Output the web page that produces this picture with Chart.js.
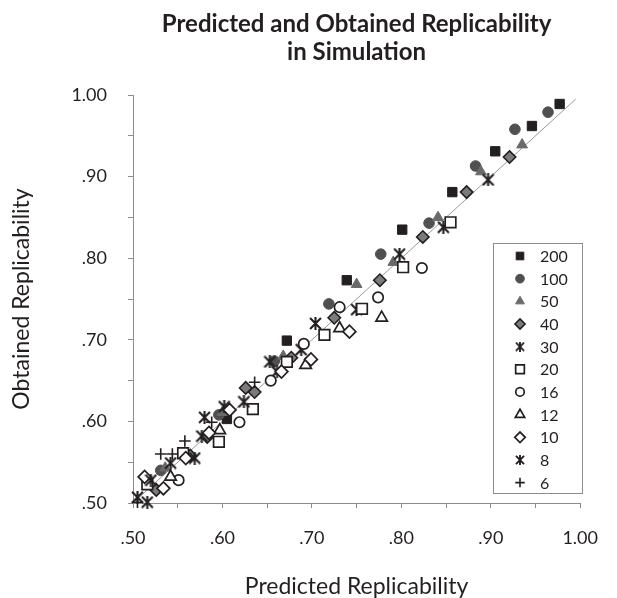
<!DOCTYPE html>
<html>
<head>
<meta charset="utf-8">
<script src="https://cdn.jsdelivr.net/npm/chart.js"></script>
<style>
  html, body { margin: 0; padding: 0; background: #fff; }
  canvas { display: block; }
</style>
</head>
<body>
<canvas id="chartRep" width="617" height="598"></canvas>
<script>
// ── data ───────────────────────────────────────────
const titleLines   = ['Predicted and Obtained Replicability', 'in Simulation'];
const xTitle       = 'Predicted Replicability';
const yTitle       = 'Obtained Replicability';
const seriesLabels = ['200', '100', '50', '40', '30', '20', '16', '12', '10', '8', '6'];

const x200 = [0.977, 0.946, 0.905, 0.857, 0.801, 0.739, 0.672, 0.605];
const y200 = [0.989, 0.962, 0.931, 0.881, 0.835, 0.773, 0.699, 0.603];
const x100 = [0.964, 0.927, 0.883, 0.831, 0.777, 0.719, 0.658, 0.596, 0.531];
const y100 = [0.979, 0.958, 0.913, 0.843, 0.805, 0.744, 0.674, 0.608, 0.540];
const x50  = [0.935, 0.889, 0.841, 0.791, 0.750, 0.668, 0.600, 0.536];
const y50  = [0.939, 0.906, 0.850, 0.795, 0.768, 0.680, 0.611, 0.543];
const x40  = [0.921, 0.873, 0.824, 0.776, 0.725, 0.677, 0.636, 0.626, 0.583, 0.564, 0.526];
const y40  = [0.924, 0.881, 0.826, 0.773, 0.727, 0.678, 0.636, 0.641, 0.581, 0.558, 0.516];
const x30  = [0.897, 0.847, 0.798, 0.750, 0.704, 0.688, 0.661, 0.602, 0.577, 0.542, 0.505];
const y30  = [0.896, 0.838, 0.805, 0.737, 0.720, 0.688, 0.661, 0.618, 0.582, 0.549, 0.507];
const x20  = [0.855, 0.802, 0.756, 0.714, 0.672, 0.634, 0.596, 0.556, 0.516];
const y20  = [0.844, 0.789, 0.738, 0.706, 0.673, 0.615, 0.575, 0.561, 0.523];
const x16  = [0.823, 0.774, 0.731, 0.691, 0.654, 0.619, 0.551];
const y16  = [0.788, 0.752, 0.740, 0.695, 0.650, 0.599, 0.528];
const x12  = [0.778, 0.731, 0.693, 0.597, 0.542];
const y12  = [0.727, 0.714, 0.669, 0.589, 0.532];
const x10  = [0.742, 0.699, 0.666, 0.608, 0.585, 0.559, 0.534, 0.513];
const y10  = [0.710, 0.676, 0.661, 0.614, 0.586, 0.555, 0.518, 0.532];
const x8   = [0.653, 0.624, 0.580, 0.569, 0.520, 0.516];
const y8   = [0.673, 0.624, 0.605, 0.555, 0.528, 0.501];
const x6   = [0.636, 0.588, 0.558, 0.544, 0.531, 0.505];
const y6   = [0.648, 0.599, 0.576, 0.560, 0.560, 0.501];

const refX = [0.50, 0.995];
const refY = [0.50, 0.995];

const xsAll = [x200, x100, x50, x40, x30, x20, x16, x12, x10, x8, x6];
const ysAll = [y200, y100, y50, y40, y30, y20, y16, y12, y10, y8, y6];

// ── marker looks ───────────────────────────────────
const INK = '#231f20';

// "Ж" shaped asterisk (vertical bar + X), as a little canvas
function zhe(size, lw) {
  const c = document.createElement('canvas');
  c.width = c.height = size;
  const g = c.getContext('2d');
  g.strokeStyle = INK; g.lineWidth = lw;
  const a = lw / 2, b = size - lw / 2;
  g.beginPath();
  g.moveTo(size / 2, 0); g.lineTo(size / 2, size);
  g.moveTo(a, a); g.lineTo(b, b);
  g.moveTo(b, a); g.lineTo(a, b);
  g.stroke();
  return c;
}
const zheBig = zhe(13, 2.1), zheSmall = zhe(10, 1.9);

const looks = [
  { ps: 'rect',     r: 6.6, bg: INK,       bc: INK,       bw: 1 },
  { ps: 'circle',   r: 5.3, bg: '#505052', bc: '#505052', bw: 1 },
  { ps: 'triangle', r: 6.2, bg: '#6a6a6c', bc: '#6a6a6c', bw: 1 },
  { ps: 'rectRot',  r: 6.2, bg: '#7b7b7d', bc: INK,       bw: 1.6 },
  { ps: zheBig,     r: 6.5, legend: zheSmall },
  { ps: 'rect',     r: 7.5, bg: '#fff',    bc: INK,       bw: 1.7 },
  { ps: 'circle',   r: 5.2, bg: '#fff',    bc: INK,       bw: 1.7 },
  { ps: 'triangle', r: 6.6, bg: '#fff',    bc: INK,       bw: 1.7 },
  { ps: 'rectRot',  r: 6.4, bg: '#fff',    bc: INK,       bw: 1.7 },
  { ps: zheBig,     r: 6.5, legend: zheSmall },
  { ps: 'cross',    r: 5.8, bg: INK,       bc: INK,       bw: 1.6 }
];

const datasets = seriesLabels.map((lab, i) => ({
  label: lab,
  data: xsAll[i].map((x, k) => ({ x, y: ysAll[i][k] })),
  pointStyle: looks[i].ps,
  pointRadius: looks[i].r,
  backgroundColor: looks[i].bg || INK,
  borderColor: looks[i].bc || INK,
  pointBorderWidth: looks[i].bw || 1,
  showLine: false,
  clip: false,
  order: seriesLabels.length - i   // later series on top, like the original
}));

datasets.push({
  label: 'ref',
  data: refX.map((x, k) => ({ x, y: refY[k] })),
  showLine: true,
  borderColor: '#9a9a9a',
  borderWidth: 1,
  pointRadius: 0,
  order: 99
});

// ── title + in-plot legend ─────────────────────────
const overlay = {
  id: 'overlay',
  afterDraw(chart) {
    const { ctx, chartArea: a } = chart;
    ctx.save();
    ctx.fillStyle = INK;
    ctx.font = 'bold 24px Lato';
    ctx.textAlign = 'center';
    ctx.textBaseline = 'alphabetic';
    const cx = (a.left + a.right) / 2;
    ctx.fillText(titleLines[0], cx, 32);
    ctx.fillText(titleLines[1], cx, 60);

    // legend box
    const bx = 493.5, by = 243.5, bwid = 89, bh = 250;
    ctx.strokeStyle = '#8c8c8c'; ctx.lineWidth = 1;
    ctx.fillStyle = '#fff';
    ctx.fillRect(bx, by, bwid, bh);
    ctx.strokeRect(bx, by, bwid, bh);

    ctx.font = '16px Lato';
    ctx.textAlign = 'left';
    ctx.textBaseline = 'middle';
    seriesLabels.forEach((lab, i) => {
      const y = 256 + i * 22.66;
      const lk = looks[i];
      ctx.fillStyle = lk.bg || INK;
      ctx.strokeStyle = lk.bc || INK;
      ctx.lineWidth = lk.bw || 1;
      Chart.helpers.drawPoint(ctx, {
        pointStyle: lk.legend || lk.ps, radius: lk.r * 0.82,
        borderWidth: lk.bw || 1, rotation: 0
      }, 520, y);
      ctx.fillStyle = INK;
      ctx.fillText(lab, 540, y + 1);
    });
    ctx.restore();
  }
};

const tickFmt = v => {
  const h = Math.round(v * 100);
  if (h % 10 !== 0) return '';
  return h === 100 ? '1.00' : '.' + h;
};

const axisLook = {
  type: 'linear',
  min: 0.5, max: 1.0,
  grid: { drawOnChartArea: false, drawTicks: true, tickLength: 5, color: '#8c8c8c' },
  border: { display: true, color: '#8c8c8c', width: 1 }
};

new Chart(document.getElementById('chartRep'), {
  type: 'scatter',
  data: { datasets },
  options: {
    responsive: false,
    animation: false,
    events: [],
    layout: { padding: { top: 95, right: 20, bottom: 0, left: 0 } },
    plugins: { legend: { display: false }, tooltip: { enabled: false }, title: { display: false } },
    scales: {
      x: {
        ...axisLook,
        position: 'bottom',
        afterFit: s => { s.height = 95; },
        ticks: { stepSize: 0.05, autoSkip: false, maxRotation: 0, padding: 19,
                 color: INK, font: { family: 'Lato', size: 18 }, callback: tickFmt },
        title: { display: true, text: xTitle, color: INK, padding: { top: 0, bottom: 0 },
                 font: { family: 'Lato', size: 23, lineHeight: 1.0 } }
      },
      y: {
        ...axisLook,
        position: 'left',
        afterFit: s => { s.width = 133; },
        ticks: { stepSize: 0.05, autoSkip: false, padding: 21,
                 color: INK, font: { family: 'Lato', size: 18 }, callback: tickFmt },
        title: { display: true, text: yTitle, color: INK, padding: { top: 8, bottom: 0 },
                 font: { family: 'Lato', size: 23, lineHeight: 1.2 } }
      }
    }
  },
  plugins: [overlay]
});
</script>
</body>
</html>
